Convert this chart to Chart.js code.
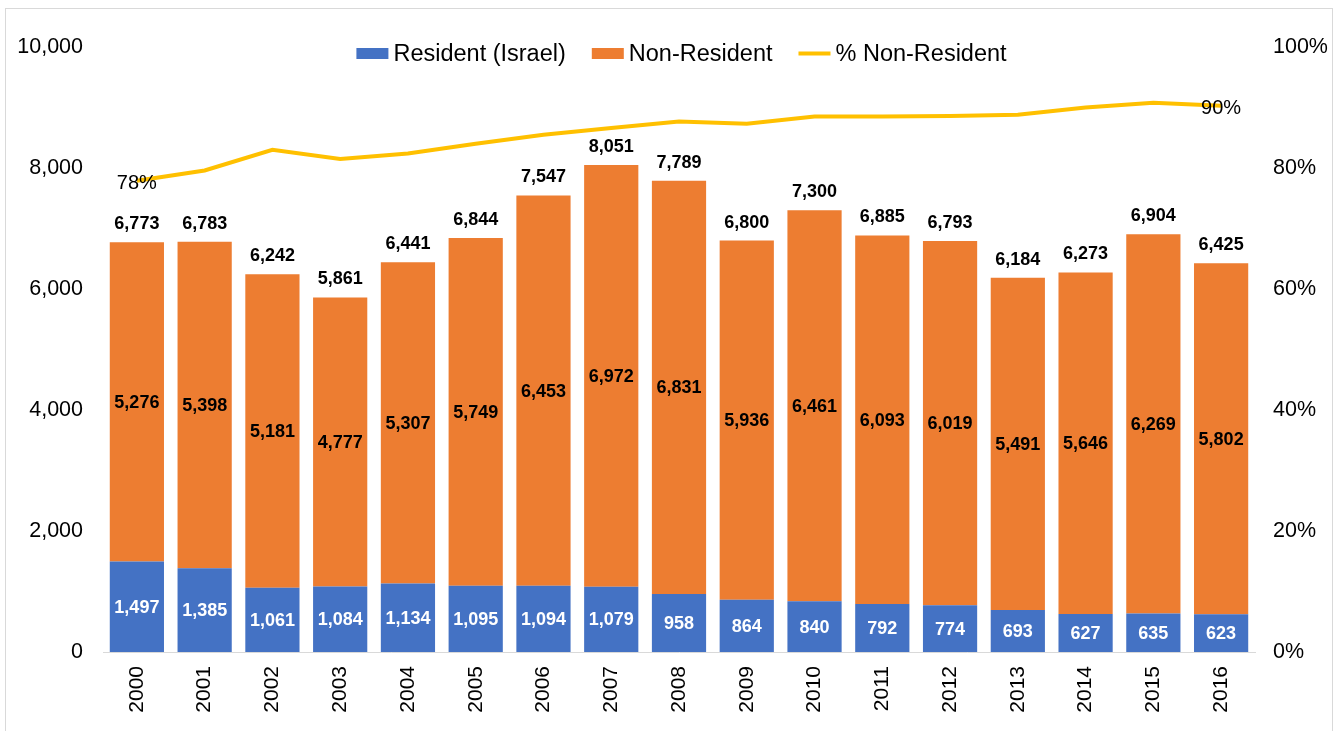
<!DOCTYPE html>
<html>
<head>
<meta charset="utf-8">
<script src="https://cdn.jsdelivr.net/npm/chart.js@4.4.1/dist/chart.umd.min.js"></script>
<style>
html,body{margin:0;padding:0;background:#fff;}
#wrap{width:1340px;height:731px;position:relative;}
</style>
</head>
<body>
<div id="wrap"><canvas id="c" width="1340" height="731"></canvas></div>
<script>
const years = ['2000','2001','2002','2003','2004','2005','2006','2007','2008','2009','2010','2011','2012','2013','2014','2015','2016'];
const resident = [1497,1385,1061,1084,1134,1095,1094,1079,958,864,840,792,774,693,627,635,623];
const nonResident = [5276,5398,5181,4777,5307,5749,6453,6972,6831,5936,6461,6093,6019,5491,5646,6269,5802];
const totals = [6773,6783,6242,5861,6441,6844,7547,8051,7789,6800,7300,6885,6793,6184,6273,6904,6425];
const pctNonResident = [77.9,79.6,83.0,81.5,82.4,84.0,85.5,86.6,87.7,87.3,88.5,88.5,88.6,88.8,90.0,90.8,90.3];
const leftTicks = [0,2000,4000,6000,8000,10000];
const rightTicks = [0,20,40,60,80,100];

const FONT = "Arial, 'Liberation Sans', sans-serif";
const BLUE = '#4472C4', ORANGE = '#ED7D31', GOLD = '#FFC000';

const fmt = v => v.toLocaleString('en-US');

const labelPlugin = {
  id: 'labels',
  afterDatasetsDraw(chart) {
    const ctx = chart.ctx;
    ctx.save();
    ctx.textAlign = 'center';
    ctx.textBaseline = 'middle';
    const m0 = chart.getDatasetMeta(0), m1 = chart.getDatasetMeta(1), m2 = chart.getDatasetMeta(2);
    ctx.font = "bold 18px " + FONT;
    m0.data.forEach((el, i) => {
      ctx.fillStyle = '#ffffff';
      ctx.fillText(fmt(resident[i]), el.x, (el.y + el.base) / 2 + 1);
    });
    m1.data.forEach((el, i) => {
      ctx.fillStyle = '#000000';
      ctx.fillText(fmt(nonResident[i]), el.x, (el.y + el.base) / 2 + 1);
      ctx.fillText(fmt(totals[i]), el.x, el.y - 18);
    });
    ctx.font = "20px " + FONT;
    [0, pctNonResident.length - 1].forEach(i => {
      const p = m2.data[i];
      ctx.fillStyle = '#000000';
      ctx.fillText(Math.round(pctNonResident[i]) + '%', p.x, p.y + 3);
    });
    ctx.restore();
  },
  afterDraw(chart) {
    const ctx = chart.ctx;
    ctx.save();
    // frame
    ctx.strokeStyle = '#d9d9d9';
    ctx.lineWidth = 1;
    ctx.strokeRect(5.5, 8.5, 1327, 730);
    // legend
    ctx.font = "23.5px " + FONT;
    ctx.textBaseline = 'middle';
    ctx.textAlign = 'left';
    const items = [
      {t: 'Resident (Israel)', c: BLUE, type: 'box'},
      {t: 'Non-Resident', c: ORANGE, type: 'box'},
      {t: '% Non-Resident', c: GOLD, type: 'line'}
    ];
    const sym = 32, gapSym = 5, gapItem = 26;
    let total = 0;
    items.forEach((it, k) => { it.w = ctx.measureText(it.t).width; total += sym + gapSym + it.w + (k ? gapItem : 0); });
    let x = 681.5 - total / 2;
    const cy = 53.5;
    items.forEach((it, k) => {
      if (k) x += gapItem;
      ctx.fillStyle = it.c;
      if (it.type === 'box') ctx.fillRect(x, cy - 5.5, sym, 11);
      else ctx.fillRect(x, cy - 2, sym, 4);
      x += sym + gapSym;
      ctx.fillStyle = '#000';
      ctx.fillText(it.t, x, cy + 1);
      x += it.w;
    });
    ctx.restore();
  }
};

new Chart(document.getElementById('c'), {
  data: {
    labels: years,
    datasets: [
      {type: 'bar', label: 'Resident (Israel)', data: resident, backgroundColor: BLUE, stack: 's', yAxisID: 'y', order: 1, barPercentage: 0.8, categoryPercentage: 1.0},
      {type: 'bar', label: 'Non-Resident', data: nonResident, backgroundColor: ORANGE, stack: 's', yAxisID: 'y', order: 1, barPercentage: 0.8, categoryPercentage: 1.0},
      {type: 'line', label: '% Non-Resident', data: pctNonResident, borderColor: GOLD, backgroundColor: GOLD, borderWidth: 4, pointRadius: 0, tension: 0, yAxisID: 'y1', order: 0}
    ]
  },
  options: {
    responsive: false,
    animation: false,
    events: [],
    layout: {padding: {top: 47, left: 0, right: 0, bottom: 0}},
    plugins: {legend: {display: false}, tooltip: {enabled: false}},
    scales: {
      x: {
        stacked: true,
        grid: {display: false, drawTicks: false},
        border: {display: true, color: '#d9d9d9', width: 1},
        ticks: {color: '#000', font: {size: 21, family: FONT}, minRotation: 90, maxRotation: 90, padding: 14, autoSkip: false},
        afterFit: s => { s.height = 79; }
      },
      y: {
        stacked: true,
        position: 'left',
        min: 0, max: 10000,
        afterBuildTicks: s => { s.ticks = leftTicks.map(v => ({value: v})); },
        grid: {display: false, drawTicks: false},
        border: {display: false},
        ticks: {color: '#000', font: {size: 21.5, family: FONT}, padding: 20, callback: v => fmt(v)},
        afterFit: s => { s.width = 103; }
      },
      y1: {
        position: 'right',
        min: 0, max: 100,
        afterBuildTicks: s => { s.ticks = rightTicks.map(v => ({value: v})); },
        grid: {display: false, drawTicks: false},
        border: {display: false},
        ticks: {color: '#000', font: {size: 21.5, family: FONT}, padding: 18, callback: v => v + '%'},
        afterFit: s => { s.width = 85; }
      }
    }
  },
  plugins: [labelPlugin]
});
</script>
</body>
</html>
